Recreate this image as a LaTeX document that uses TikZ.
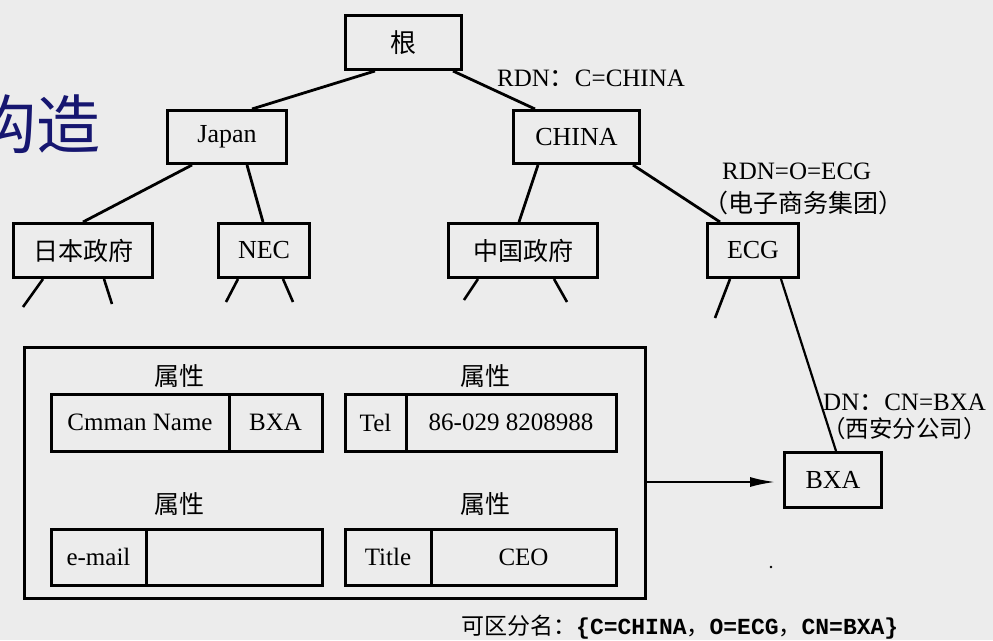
\documentclass[tikz,border=0pt]{standalone}
\usepackage{fontspec}
\setmainfont{Liberation Serif}
\newfontfamily\cjk{Noto Sans CJK SC}
\newfontfamily\monof{Liberation Mono}
\usetikzlibrary{arrows.meta}
\definecolor{bgc}{RGB}{236,236,236}
\definecolor{navy}{RGB}{22,22,112}
\begin{document}
\begin{tikzpicture}[x=1pt,y=-1pt,
  box/.style={draw, line width=3pt, inner sep=0pt, font=\fontsize{26}{30}\selectfont},
  cell/.style={draw, line width=3pt, inner sep=0pt, font=\fontsize{25}{29}\selectfont},
  edge/.style={line width=2.8pt},
  stub/.style={line width=2.6pt},
  lbl/.style={inner sep=0pt, anchor=west, font=\fontsize{25}{29}\selectfont},
  attr/.style={inner sep=0pt, font=\cjk\fontsize{25}{29}\selectfont}]
\useasboundingbox (0,0) rectangle (993,640);
\clip (0,0) rectangle (993,640);
\fill[bgc] (0,0) rectangle (993,640);

% title fragment
\node[inner sep=0pt, anchor=east, text=navy, font=\cjk\fontsize{64}{70}\selectfont] (title) at (101,124) {构造};

% tree nodes
\node[box, minimum width=116pt, minimum height=54pt] (root) at (403.5,42.5) {\cjk 根};
\node[box, minimum width=119pt, minimum height=53pt] (japan) at (227,137) {Japan};
\node[box, minimum width=126pt, minimum height=53pt] (china) at (576.5,137) {CHINA};
\node[box, minimum width=139pt, minimum height=54pt, font=\cjk\fontsize{25}{29}\selectfont] (jpgov) at (83,250.5) {日本政府};
\node[box, minimum width=91pt, minimum height=54pt] (nec) at (264,250.5) {NEC};
\node[box, minimum width=149pt, minimum height=54pt, font=\cjk\fontsize{25}{29}\selectfont] (cngov) at (523,250.5) {中国政府};
\node[box, minimum width=91pt, minimum height=54pt] (ecg) at (753,250.5) {ECG};
\node[box, minimum width=97pt, minimum height=55pt] (bxa) at (833,480) {BXA};

% tree edges
\draw[edge] ([xshift=-28.5pt]root.south) -- ([xshift=25pt]japan.north);
\draw[edge] ([xshift=49.5pt]root.south) -- ([xshift=-41.5pt]china.north);
\draw[edge] ([xshift=-35pt]japan.south) -- (jpgov.north);
\draw[edge] ([xshift=20pt]japan.south) -- ([xshift=-1pt]nec.north);
\draw[edge] ([xshift=-38.5pt]china.south) -- ([xshift=-4pt]cngov.north);
\draw[edge] ([xshift=56.5pt]china.south) -- ([xshift=-33pt]ecg.north);
\draw[line width=2.2pt] ([xshift=28pt]ecg.south) -- ([xshift=3pt]bxa.north);

% stubs
\coordinate (s1) at (23,307);
\coordinate (s2) at (112,304);
\coordinate (s3) at (226,302);
\coordinate (s4) at (293,302);
\coordinate (s5) at (464,300);
\coordinate (s6) at (567,302);
\coordinate (s7) at (715,318);
\draw[stub] ([xshift=-40pt]jpgov.south) -- (s1);
\draw[stub] ([xshift=21pt]jpgov.south) -- (s2);
\draw[stub] ([xshift=-26pt]nec.south) -- (s3);
\draw[stub] ([xshift=19pt]nec.south) -- (s4);
\draw[stub] ([xshift=-45pt]cngov.south) -- (s5);
\draw[stub] ([xshift=31pt]cngov.south) -- (s6);
\draw[stub] ([xshift=-23pt]ecg.south) -- (s7);

% labels
\node[lbl] (l1) at (497,78) {RDN{\cjk ：}C=CHINA};
\node[lbl] (l2) at (722,171) {RDN=O=ECG};
\node[lbl] (l3) at (703,203) {\cjk （电子商务集团）};
\node[lbl] (l4) at (823,402) {DN{\cjk ：}CN=BXA};
\node[lbl, font=\cjk\fontsize{23.5}{28}\selectfont] (l5) at (822,429) {（西安分公司）};

% attribute box
\node[draw, line width=3pt, minimum width=621pt, minimum height=251pt, inner sep=0pt] (attrbox) at (334.5,472.5) {};

\node[attr] (a1) at (179,376) {属性};
\node[attr] (a2) at (485,376) {属性};
\node[attr] (a3) at (179,504) {属性};
\node[attr] (a4) at (485,504) {属性};

\node[cell, minimum width=178pt, minimum height=57pt] (c11) at (140,422.5) {Cmman Name};
\node[cell, minimum width=93pt, minimum height=57pt] (c12) at (275.5,422.5) {BXA};
\node[cell, minimum width=61pt, minimum height=57pt] (c21) at (375.5,422.5) {Tel};
\node[cell, minimum width=210pt, minimum height=57pt] (c22) at (511,422.5) {86-029 8208988};
\node[cell, minimum width=95pt, minimum height=56pt] (c31) at (98.5,557) {e-mail};
\node[cell, minimum width=176pt, minimum height=56pt] (c32) at (234,557) {};
\node[cell, minimum width=86pt, minimum height=56pt] (c41) at (388,557) {Title};
\node[cell, minimum width=185pt, minimum height=56pt] (c42) at (523.5,557) {CEO};

% arrow
\draw[line width=2.6pt, -{Latex[length=26pt,width=10pt]}, shorten >=7pt] ([yshift=-9.5pt]attrbox.east) -- ([yshift=-2pt]bxa.west);

% dot
\fill (771,567) circle (1.4pt);

% bottom text
\node[lbl] (dn) at (461,627) {\cjk\fontsize{23}{27}\selectfont 可区分名：\monof\bfseries\{C=CHINA\cjk\mdseries ，\monof\bfseries O=ECG\cjk\mdseries ，\monof\bfseries CN=BXA\}};
\end{tikzpicture}
\end{document}
